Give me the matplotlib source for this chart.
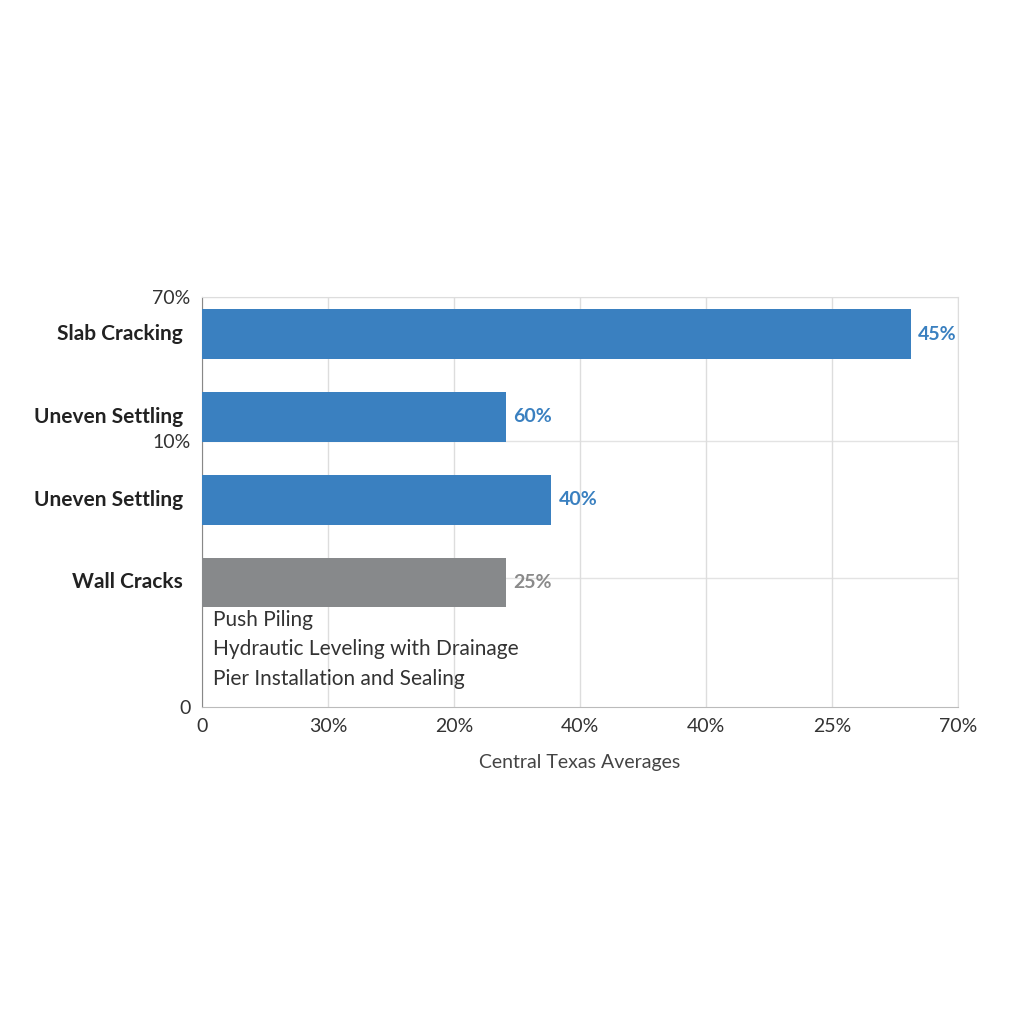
import matplotlib
matplotlib.use("Agg")
import matplotlib.pyplot as plt
plt.rcParams['font.family'] = ['Lato', 'DejaVu Sans']

categories = ["Slab Cracking", "Uneven Settling", "Uneven Settling", "Wall Cracks"]
values = [5.62, 2.41, 2.77, 2.41]
value_labels = ["45%", "60%", "40%", "25%"]
colors = ["#3a80c0", "#3a80c0", "#3a80c0", "#87898b"]
label_colors = ["#3a80c0", "#3a80c0", "#3a80c0", "#8a8a8a"]
x_tick_labels = ["0", "30%", "20%", "40%", "40%", "25%", "70%"]
y_extra_ticks = [(-0.45, "70%"), (1.29, "10%"), (4.5, "0")]
notes = ["Push Piling", "Hydrautic Leveling with Drainage", "Pier Installation and Sealing"]

fig = plt.figure(figsize=(10.24, 10.24), dpi=100)
ax = fig.add_axes([0.197, 0.310, 0.739, 0.400])
ypos = list(range(len(categories)))
ax.barh(ypos, values, height=0.6, color=colors, zorder=3)
for y, v, t, c in zip(ypos, values, value_labels, label_colors):
    ax.text(v + 0.06, y, t, va="center", ha="left", color=c, fontsize=14, fontweight="bold")
for y, cat in zip(ypos, categories):
    ax.text(-0.15, y, cat, va="center", ha="right", fontsize=15, fontweight="bold", color="#222222")
ax.set_xlim(0, 6)
ax.set_ylim(4.5, -0.45)
ax.set_xticks(range(7))
ax.set_xticklabels(x_tick_labels, fontsize=14, color="#333333")
ax.set_yticks([t for t, _ in y_extra_ticks])
ax.set_yticklabels([l for _, l in y_extra_ticks], fontsize=14, color="#333333")
ax.tick_params(length=0, pad=8)
ax.grid(axis="x", color="#dddddd", lw=1, zorder=0)
for gy in [-0.45, 1.29, 2.95]:
    ax.axhline(gy, color="#e3e3e3", lw=1, zorder=0)
for s in ["top", "right"]:
    ax.spines[s].set_color("#dddddd")
ax.spines["left"].set_color("#888888")
ax.spines["bottom"].set_color("#bbbbbb")
for i, n in enumerate(notes):
    ax.text(0.09, 3.45 + i * 0.36, n, fontsize=15, color="#333333", va="center")
ax.set_xlabel("Central Texas Averages", fontsize=14, color="#444444", labelpad=14)
fig.savefig("out.png", dpi=100, facecolor="white")
